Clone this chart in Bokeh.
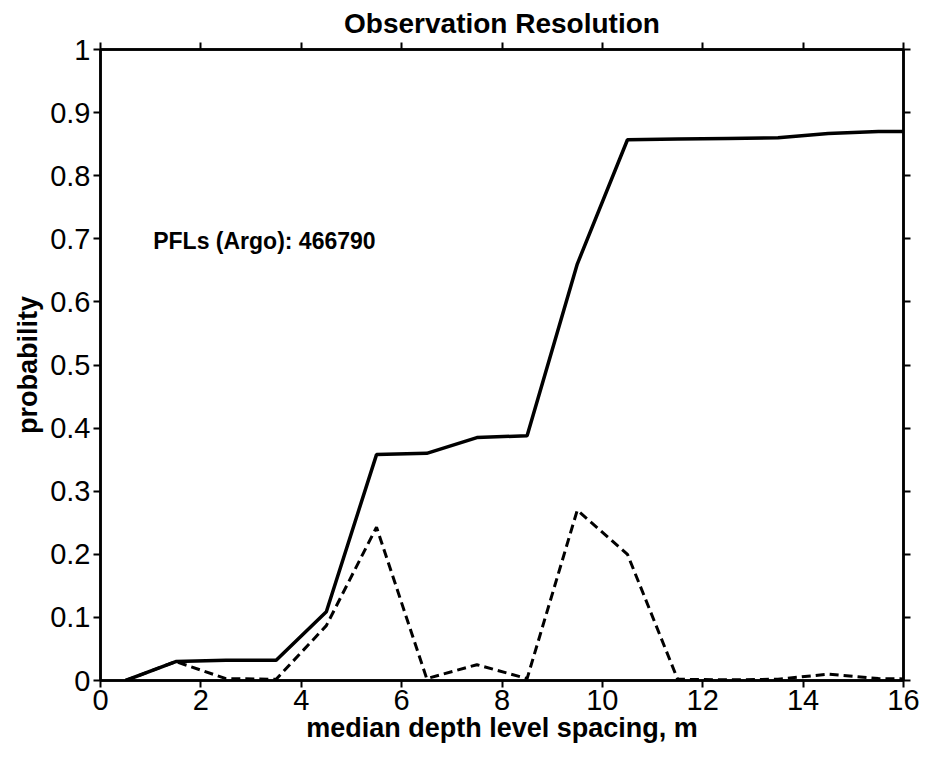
from bokeh.plotting import figure
from bokeh.models import LinearAxis, FixedTicker, Range1d, Label, CustomLabelingPolicy
from bokeh.embed import file_html
from bokeh.resources import INLINE

# data
x_vals = [0.5, 1.5, 2.5, 3.5, 4.5, 5.5, 6.5, 7.5, 8.5, 9.5, 10.5, 11.5, 12.5, 13.5, 14.5, 15.5, 16.5]
cumulative = [0.0, 0.030, 0.032, 0.032, 0.109, 0.358, 0.360, 0.385, 0.388, 0.660, 0.857, 0.858, 0.859, 0.860, 0.867, 0.870, 0.870]
density = [0.0, 0.030, 0.003, 0.002, 0.087, 0.243, 0.003, 0.025, 0.003, 0.270, 0.200, 0.002, 0.001, 0.002, 0.010, 0.003, 0.002]
x_ticks = [0, 2, 4, 6, 8, 10, 12, 14, 16]
y_ticks = [0, 0.1, 0.2, 0.3, 0.4, 0.5, 0.6, 0.7, 0.8, 0.9, 1]
title_text = "Observation Resolution"
x_label = "median depth level spacing, m"
y_label = "probability"
annotation = "PFLs (Argo): 466790"

FONT = "Liberation Sans"

p = figure(width=938, height=761, output_backend="svg", toolbar_location=None,
           x_range=Range1d(0, 16), y_range=Range1d(0, 1),
           min_border_left=100, min_border_right=35, min_border_top=49, min_border_bottom=81,
           x_axis_location=None, y_axis_location=None)
p.title.text = title_text
p.title.align = "center"
p.title.vertical_align = "top"
p.title.text_font = FONT
p.title.text_font_size = "28px"
p.title.text_font_style = "bold"
p.title.text_color = "black"
p.title.offset = 0
p.title.standoff = 4

p.xgrid.visible = False
p.ygrid.visible = False
p.outline_line_color = "black"
p.outline_line_width = 2.5
p.background_fill_color = "white"
p.border_fill_color = "white"

hide_all = CustomLabelingPolicy(code="""
    for (const i of indices) { indices.unset(i) }
    return indices
""")

def style_axis(ax, show_labels):
    ax.axis_line_color = "black"
    ax.axis_line_width = 2.5
    ax.major_tick_line_color = "black"
    ax.major_tick_line_width = 2
    ax.major_tick_out = 7
    ax.major_tick_in = 0
    ax.minor_tick_line_color = None
    ax.major_label_text_font = FONT
    ax.major_label_text_color = "black"
    if show_labels:
        ax.major_label_text_font_size = "29px"
    else:
        ax.major_label_policy = hide_all
        ax.major_label_text_font_size = "0px"
        ax.major_label_standoff = 0
    ax.axis_label_text_font = FONT
    ax.axis_label_text_font_size = "27px"
    ax.axis_label_text_font_style = "bold"
    ax.axis_label_text_color = "black"

xb = LinearAxis(ticker=FixedTicker(ticks=x_ticks), axis_label=x_label)
style_axis(xb, True)
xb.major_label_standoff = 2
xb.axis_label_standoff = 0
p.add_layout(xb, "below")

yl = LinearAxis(ticker=FixedTicker(ticks=y_ticks), axis_label=y_label)
style_axis(yl, True)
yl.major_label_overrides = {0: "0", 1: "1"}
yl.major_label_standoff = 3
yl.axis_label_standoff = 4
p.add_layout(yl, "left")

xt = LinearAxis(ticker=FixedTicker(ticks=x_ticks))
style_axis(xt, False)
p.add_layout(xt, "above")

yr = LinearAxis(ticker=FixedTicker(ticks=y_ticks))
style_axis(yr, False)
p.add_layout(yr, "right")

p.line(x_vals, cumulative, line_color="black", line_width=3.5)
p.line(x_vals, density, line_color="black", line_width=3, line_dash="9 5")

lab = Label(x=1.05, y=0.697, text=annotation, text_font=FONT, text_font_size="23px",
            text_font_style="bold", text_color="black", text_baseline="middle")
p.add_layout(lab)

open("out.html", "w").write(file_html(p, INLINE))
